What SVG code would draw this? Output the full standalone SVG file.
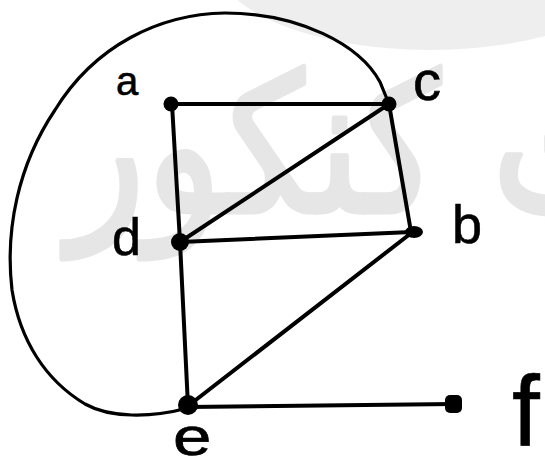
<svg xmlns="http://www.w3.org/2000/svg" width="545" height="467" viewBox="0 0 545 467">
<style>
.edge{stroke:#000;stroke-width:4;fill:none;stroke-linecap:round}
.curve{stroke:#000;stroke-width:3.2;fill:none;stroke-linecap:round}
.dot{fill:#000}
.lbl{font-family:"Liberation Sans","DejaVu Sans",sans-serif;fill:#000;stroke:#000;stroke-width:0.6}
.wm{font-family:"DejaVu Sans",sans-serif;fill:#e6e6e6;stroke:#e6e6e6;stroke-width:4;stroke-linejoin:round}
</style>
<rect width="545" height="467" fill="#fff"/>
<g id="watermark">
<ellipse cx="430" cy="-40" rx="215" ry="90" fill="#eeeeee"/>
<text class="wm" x="0" y="0" font-size="160" transform="translate(68,212) scale(1,1.2)">تست کنکور</text>
</g>
<g id="connectors">
<path class="curve" d="M188,408 C150,418 110,418 85,404 C45,380 20,340 12,290 C5,230 18,165 55,110 C95,45 160,14 225,13 C300,13 360,45 380,82 L389,104"/>
<line class="edge" x1="172" y1="104" x2="389" y2="104"/>
<line class="edge" x1="172" y1="104" x2="180" y2="242"/>
<line class="edge" x1="389" y1="104" x2="180" y2="242"/>
<line class="edge" x1="389" y1="104" x2="411" y2="232"/>
<line class="edge" x1="180" y1="242" x2="412" y2="232"/>
<line class="edge" x1="180" y1="242" x2="188" y2="406"/>
<line class="edge" x1="410" y1="234" x2="188" y2="406"/>
<line class="edge" x1="188" y1="407" x2="454" y2="404"/>
</g>
<g id="node-a"><circle class="dot" cx="171" cy="104" r="7.5"/><text class="lbl" x="116" y="95" font-size="40">a</text></g>
<g id="node-c"><circle class="dot" cx="389" cy="104" r="7.5"/><text class="lbl" x="413" y="100" font-size="56">c</text></g>
<g id="node-b"><ellipse class="dot" cx="414" cy="232" rx="9" ry="6"/><text class="lbl" x="452" y="243" font-size="54">b</text></g>
<g id="node-d"><circle class="dot" cx="180" cy="242" r="9"/><text class="lbl" x="112" y="255" font-size="52">d</text></g>
<g id="node-e"><circle class="dot" cx="188" cy="405" r="10"/><text class="lbl" x="0" y="0" font-size="46" transform="translate(173,455) scale(1.5,1.15)">e</text></g>
<g id="node-f"><rect class="dot" x="445" y="395" width="17" height="18" rx="5"/><text class="lbl" x="512" y="446" font-size="100">f</text></g>
</svg>
